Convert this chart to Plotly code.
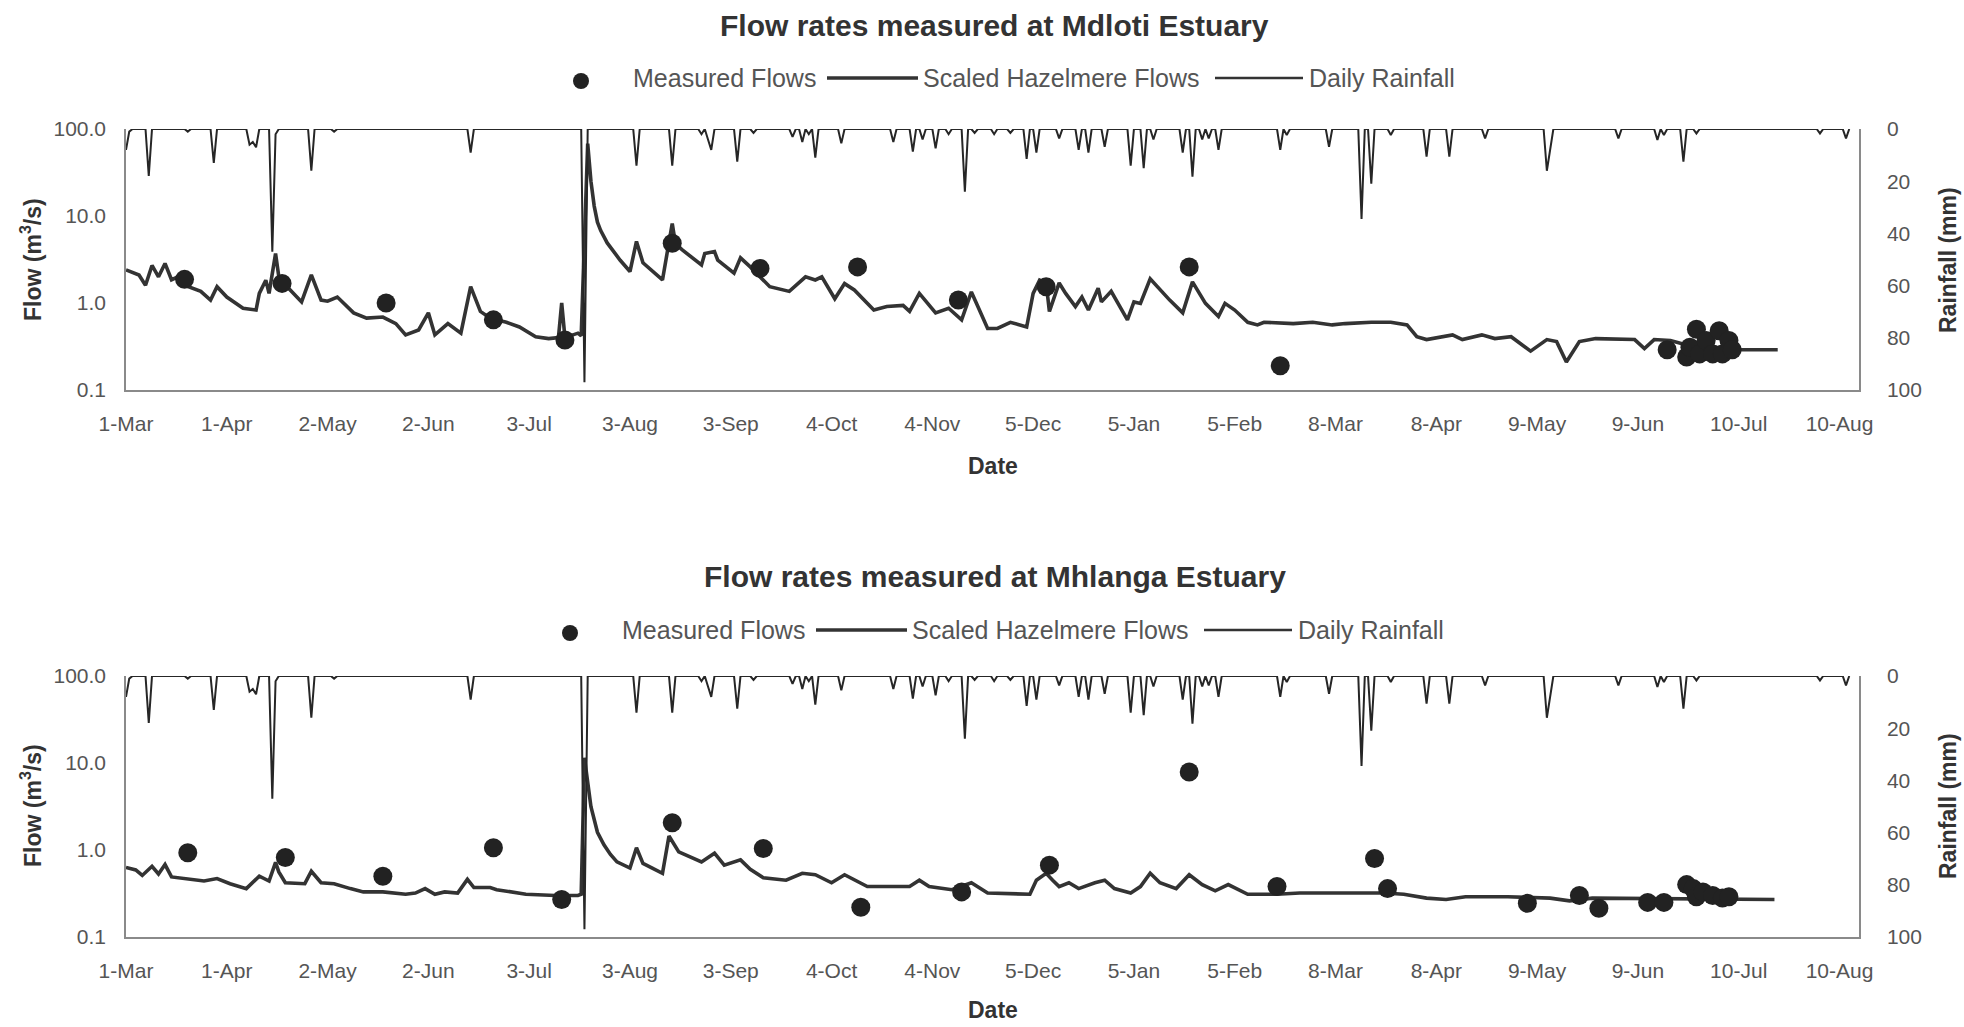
import numpy as np
import pandas as pd
import plotly.graph_objects as go
from plotly.subplots import make_subplots

# ---------------- data (day offsets from 1-Mar) ----------------
BASE_DATE = "2002-03-01"

tick_dates = ["2002-03-01", "2002-04-01", "2002-05-02", "2002-06-02", "2002-07-03",
              "2002-08-03", "2002-09-03", "2002-10-04", "2002-11-04", "2002-12-05",
              "2003-01-05", "2003-02-05", "2003-03-08", "2003-04-08", "2003-05-09",
              "2003-06-09", "2003-07-10", "2003-08-10"]
tick_labels = ["1-Mar", "1-Apr", "2-May", "2-Jun", "3-Jul", "3-Aug", "3-Sep", "4-Oct",
               "4-Nov", "5-Dec", "5-Jan", "5-Feb", "8-Mar", "8-Apr", "9-May", "9-Jun",
               "10-Jul", "10-Aug"]

# Daily rainfall (mm): days with rain, all other days are 0
rain_days = [0, 1, 7, 19, 27, 38, 39, 40, 45, 46, 57, 64, 106, 141, 157, 168, 177, 179, 180,
             188, 193, 205, 208, 210, 212, 220, 236, 242, 245, 249, 253, 258, 261, 267, 272,
             277, 280, 287, 293, 296, 301, 309, 313, 316, 325, 328, 331, 333, 336, 355, 357,
             370, 380, 383, 389, 400, 407, 418, 437, 438, 459, 471, 473, 479, 483, 521, 529]
rain_mm = [8, 1, 18, 1, 13, 6, 5, 7, 47, 2, 16, 1, 9, 97, 14, 14, 2, 4, 8,
           12.5, 1.5, 3, 5, 2, 11, 5.5, 5, 8.7, 4, 7.4, 2, 24, 1.5, 2, 1.5,
           11.5, 9, 3.6, 8, 9, 6.8, 14, 15, 4, 9, 18.3, 4, 3.6, 8, 8, 2.3,
           6.8, 34.5, 21, 2.3, 10.6, 10.6, 3.6, 16, 8, 3.6, 4.2, 2.3, 12.5, 1.7, 1.7, 3.6]
rain_last_day = 531

# Mdloti: scaled Hazelmere flows (m3/s)
mdl_days = [0, 4, 6, 8, 10, 12, 14, 16, 19, 23, 26, 28, 31, 36, 40, 41, 43, 44, 46, 47,
            50, 54, 57, 60, 62, 65, 70, 74, 79, 83, 86, 90, 93, 95, 99, 103, 106, 109, 112,
            117, 121, 126, 130, 133, 134, 135, 139, 140, 142, 143, 144, 145, 146, 148, 152,
            155, 157, 159, 165, 168, 169, 171, 177, 178, 181, 182, 187, 189, 192, 195, 198,
            204, 209, 212, 214, 218, 221, 224, 230, 234, 239, 241, 244, 249, 253, 257, 260,
            262, 265, 268, 272, 277, 279, 281, 283, 284, 287, 289, 292, 294, 296, 299, 300,
            303, 308, 310, 312, 315, 319, 321, 325, 328, 332, 336, 338, 341, 345, 348, 350,
            359, 365, 371, 375, 383, 389, 394, 397, 400, 408, 411, 417, 421, 426, 432, 437,
            440, 443, 447, 452, 464, 467, 470, 475, 480, 497, 508]
mdl_flow = [2.4, 2.1, 1.6, 2.7, 2.0, 2.85, 1.85, 2.0, 1.55, 1.36, 1.08, 1.54, 1.17, 0.87, 0.83,
            1.29, 1.83, 1.29, 3.7, 2.0, 1.48, 1.03, 2.1, 1.08, 1.05, 1.17, 0.77, 0.67, 0.69,
            0.58, 0.43, 0.49, 0.77, 0.43, 0.58, 0.45, 1.54, 0.8, 0.67, 0.6, 0.53, 0.41, 0.39,
            0.40, 1.0, 0.40, 0.45, 0.42, 68, 25, 13, 8.5, 6.8, 4.9, 3.1, 2.3, 5.1, 2.9, 1.84,
            8.2, 4.8, 4.1, 2.74, 3.7, 3.9, 3.1, 2.2, 3.3, 2.6, 2.0, 1.54, 1.36, 2.0, 1.84, 2.0,
            1.12, 1.67, 1.41, 0.83, 0.91, 0.94, 0.8, 1.29, 0.77, 0.87, 0.64, 1.34, 0.91, 0.51,
            0.51, 0.6, 0.53, 1.29, 1.83, 1.7, 0.8, 1.7, 1.29, 0.91, 1.17, 0.83, 1.48, 1.03,
            1.36, 0.64, 1.03, 0.99, 1.9, 1.29, 1.08, 0.77, 1.75, 0.99, 0.7, 0.99, 0.83, 0.6,
            0.56, 0.6, 0.58, 0.6, 0.56, 0.58, 0.6, 0.6, 0.56, 0.41, 0.38, 0.43, 0.38, 0.43,
            0.39, 0.41, 0.28, 0.38, 0.36, 0.21, 0.36, 0.39, 0.38, 0.3, 0.38, 0.37, 0.33, 0.29,
            0.29]

# Mdloti: measured flows
mdl_meas_days = [18, 48, 80, 113, 135, 168, 195, 225, 256, 283, 327, 355, 474, 480, 481,
                 483, 484, 486, 488, 490, 491, 493, 494]
mdl_meas_flow = [1.87, 1.68, 1.0, 0.64, 0.376, 4.85, 2.5, 2.6, 1.08, 1.54, 2.6, 0.19, 0.29,
                 0.24, 0.31, 0.5, 0.26, 0.37, 0.26, 0.48, 0.26, 0.37, 0.29]

# Mhlanga: scaled Hazelmere flows (m3/s)
mhl_days = [0, 3, 5, 8, 10, 12, 14, 19, 24, 28, 32, 37, 41, 44, 46, 47, 49, 55, 57, 60, 64,
            69, 73, 79, 86, 89, 92, 95, 98, 102, 105, 107, 112, 114, 123, 132, 139, 140, 141,
            143, 145, 147, 149, 151, 155, 157, 159, 165, 167, 170, 177, 181, 184, 189, 192,
            196, 203, 208, 212, 217, 221, 228, 241, 244, 247, 254, 260, 265, 274, 278, 280,
            283, 285, 287, 290, 293, 298, 301, 304, 309, 312, 315, 318, 323, 327, 331, 335,
            339, 345, 354, 361, 387, 393, 400, 406, 412, 425, 438, 444, 451, 507]
mhl_flow = [0.63, 0.59, 0.51, 0.65, 0.53, 0.68, 0.49, 0.46, 0.44, 0.47, 0.41, 0.36, 0.5, 0.44,
            0.72, 0.56, 0.42, 0.41, 0.57, 0.42, 0.41, 0.36, 0.33, 0.33, 0.31, 0.32, 0.36, 0.31,
            0.33, 0.32, 0.46, 0.37, 0.37, 0.35, 0.31, 0.30, 0.30, 0.31, 11.5, 3.15, 1.6, 1.15,
            0.89, 0.73, 0.62, 1.06, 0.7, 0.54, 1.45, 0.95, 0.73, 0.92, 0.67, 0.77, 0.6, 0.48,
            0.45, 0.54, 0.52, 0.42, 0.52, 0.38, 0.38, 0.45, 0.38, 0.35, 0.42, 0.32, 0.31, 0.31,
            0.45, 0.54, 0.45, 0.38, 0.42, 0.36, 0.42, 0.45, 0.36, 0.32, 0.38, 0.54, 0.42, 0.36,
            0.52, 0.4, 0.34, 0.4, 0.31, 0.31, 0.32, 0.32, 0.31, 0.28, 0.27, 0.29, 0.29, 0.28,
            0.26, 0.28, 0.27]

# Mhlanga: measured flows
mhl_meas_days = [19, 49, 79, 113, 134, 168, 196, 226, 257, 284, 327, 354, 384, 388, 431, 447,
                 453, 468, 473, 480, 482, 483, 485, 488, 491, 493]
mhl_meas_flow = [0.93, 0.82, 0.50, 1.06, 0.27, 2.06, 1.04, 0.22, 0.33, 0.67, 7.9, 0.38, 0.8,
                 0.36, 0.244, 0.30, 0.214, 0.25, 0.25, 0.40, 0.36, 0.29, 0.33, 0.30, 0.28, 0.29]

titles = ["Flow rates measured at Mdloti Estuary", "Flow rates measured at Mhlanga Estuary"]
legend_names = ["Measured Flows", "Scaled Hazelmere Flows", "Daily Rainfall"]
x_range = ["2002-03-01", "2003-08-16"]

# ---------------- helpers ----------------
base = pd.Timestamp(BASE_DATE)
def to_dates(days):
    return [base + pd.Timedelta(days=int(d)) for d in days]

rain_daily = np.zeros(rain_last_day)
rain_daily[rain_days] = rain_mm
rain_x = to_dates(range(rain_last_day))

W, H = 1964, 1027
def px(x):
    return x / W
def py(y):
    return 1 - y / H

FONT = "Liberation Sans, Arial, sans-serif"
INK = "#262626"
GREY_TXT = "#555555"
AXIS_COL = "#8a8a8a"

fig = make_subplots(rows=2, cols=1, specs=[[{"secondary_y": True}], [{"secondary_y": True}]])

panels = [
    (mdl_days, mdl_flow, mdl_meas_days, mdl_meas_flow),
    (mhl_days, mhl_flow, mhl_meas_days, mhl_meas_flow),
]
for i, (fd, fv, md, mv) in enumerate(panels, start=1):
    fig.add_trace(go.Scatter(x=rain_x, y=rain_daily, mode="lines", name=legend_names[2],
                             line=dict(color=INK, width=2.0), showlegend=False),
                  row=i, col=1, secondary_y=True)
    fig.add_trace(go.Scatter(x=to_dates(fd), y=fv, mode="lines", name=legend_names[1],
                             line=dict(color="#333333", width=3.6), showlegend=False),
                  row=i, col=1, secondary_y=False)
    fig.add_trace(go.Scatter(x=to_dates(md), y=mv, mode="markers", name=legend_names[0],
                             marker=dict(color="#222222", size=19), showlegend=False),
                  row=i, col=1, secondary_y=False)

xdom = [px(126), px(1859)]
ydoms = [[py(390), py(129)], [py(937), py(676)]]

tickfont = dict(family=FONT, size=21, color=GREY_TXT)
for i in range(2):
    xa = "xaxis" if i == 0 else "xaxis2"
    ya = "yaxis" if i == 0 else "yaxis3"
    yb = "yaxis2" if i == 0 else "yaxis4"
    fig.layout[xa].update(domain=xdom, type="date", range=x_range, tickmode="array",
                          tickvals=tick_dates, ticktext=tick_labels, showgrid=False,
                          zeroline=False, showline=True, linecolor=AXIS_COL, linewidth=1.5,
                          ticks="", ticklabelstandoff=14, tickfont=tickfont, automargin=False)
    fig.layout[ya].update(domain=ydoms[i], type="log", range=[-1, 2], tickmode="array",
                          tickvals=[0.1, 1, 10, 100], ticktext=["0.1", "1.0", "10.0", "100.0"],
                          showgrid=False, zeroline=False, showline=True, linecolor=AXIS_COL,
                          linewidth=1.5, ticks="", ticklabelstandoff=14, tickfont=tickfont,
                          automargin=False)
    fig.layout[yb].update(range=[100, 0], tickmode="array", tickvals=[0, 20, 40, 60, 80, 100],
                          showgrid=False, zeroline=False, showline=True, linecolor=AXIS_COL,
                          linewidth=1.5, ticks="", ticklabelstandoff=22, tickfont=tickfont,
                          automargin=False)

# ---------------- titles, axis titles, legends ----------------
ann = []
shapes = []
title_y = [25, 576]
legend_y = [79, 631]
date_y = [466, 1010]
plot_mid = [260, 806]
legend_x0 = [581, 570]
for i in range(2):
    ann.append(dict(text="<b>" + titles[i] + "</b>", x=px(995), y=py(title_y[i]), xref="paper",
                    yref="paper", showarrow=False, xanchor="center", yanchor="middle",
                    font=dict(family=FONT, size=30, color="#333333")))
    ann.append(dict(text="<b>Date</b>", x=px(993), y=py(date_y[i]), xref="paper", yref="paper",
                    showarrow=False, xanchor="center", yanchor="middle",
                    font=dict(family=FONT, size=23, color="#333333")))
    ann.append(dict(text="<b>Flow (m<sup>3</sup>/s)</b>", x=px(31), y=py(plot_mid[i]),
                    xref="paper", yref="paper", showarrow=False, textangle=-90,
                    xanchor="center", yanchor="middle",
                    font=dict(family=FONT, size=23, color="#333333")))
    ann.append(dict(text="<b>Rainfall (mm)</b>", x=px(1948), y=py(plot_mid[i]),
                    xref="paper", yref="paper", showarrow=False, textangle=-90,
                    xanchor="center", yanchor="middle",
                    font=dict(family=FONT, size=23, color="#333333")))
    # legend
    lx = legend_x0[i]
    ly = legend_y[i]
    shapes.append(dict(type="circle", xref="paper", yref="paper",
                       x0=px(lx - 8), x1=px(lx + 8), y0=py(ly + 10), y1=py(ly - 6),
                       fillcolor="#222222", line=dict(width=0)))
    ann.append(dict(text=legend_names[0], x=px(lx + 50), y=py(ly - 1), xref="paper",
                    yref="paper", showarrow=False, xanchor="left", yanchor="middle",
                    font=dict(family=FONT, size=25, color=GREY_TXT)))
    shapes.append(dict(type="line", xref="paper", yref="paper", x0=px(lx + 246), x1=px(lx + 337),
                       y0=py(ly - 1), y1=py(ly - 1), line=dict(color="#333333", width=3.5)))
    ann.append(dict(text=legend_names[1], x=px(lx + 340), y=py(ly - 1), xref="paper",
                    yref="paper", showarrow=False, xanchor="left", yanchor="middle",
                    font=dict(family=FONT, size=25, color=GREY_TXT)))
    shapes.append(dict(type="line", xref="paper", yref="paper", x0=px(lx + 634), x1=px(lx + 722),
                       y0=py(ly - 1), y1=py(ly - 1), line=dict(color="#333333", width=2.5)))
    ann.append(dict(text=legend_names[2], x=px(lx + 726), y=py(ly - 1), xref="paper",
                    yref="paper", showarrow=False, xanchor="left", yanchor="middle",
                    font=dict(family=FONT, size=25, color=GREY_TXT)))

fig.update_layout(width=W, height=H, margin=dict(l=0, r=0, t=0, b=0, autoexpand=False),
                  paper_bgcolor="white", plot_bgcolor="white", showlegend=False,
                  annotations=ann, shapes=shapes, font=dict(family=FONT))

fig.write_html("out.html")
